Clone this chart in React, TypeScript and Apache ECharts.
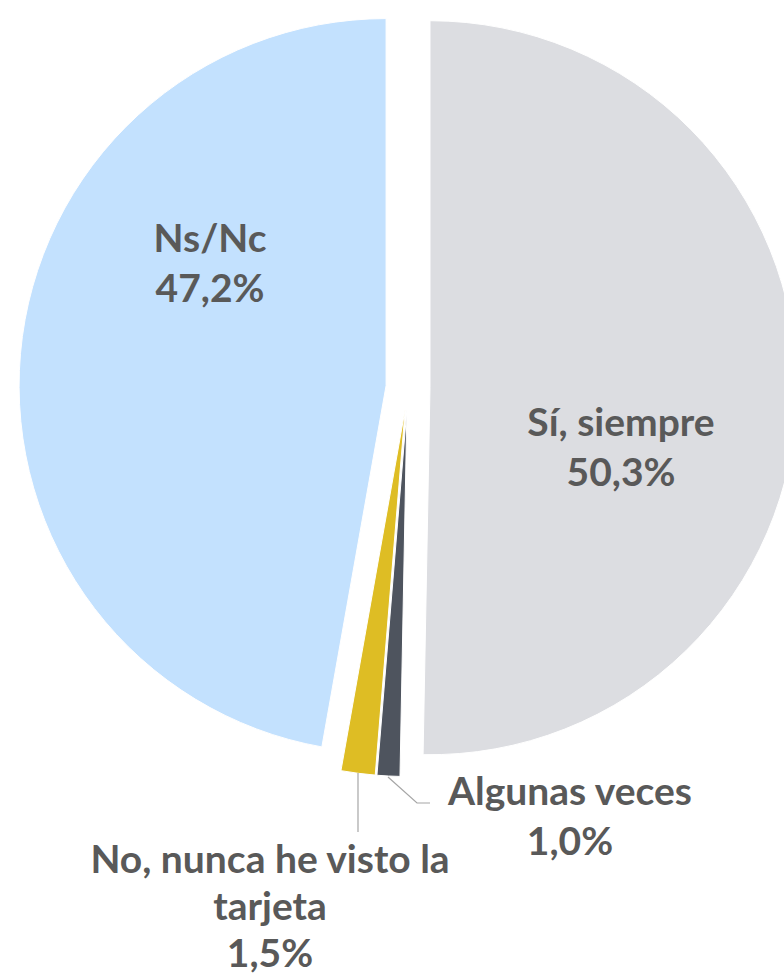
import React, { useEffect, useRef } from "react";
import * as echarts from "echarts";

const categories = ["Sí, siempre", "Algunas veces", "No, nunca he visto la\ntarjeta", "Ns/Nc"];
const values = [50.3, 1.0, 1.5, 47.2];
const colors = ["#DCDDE1", "#4E545E", "#DEBD24", "#C3E1FE"];
// label anchor positions (centre of each label block), line heights and leader lines
const labelPos: number[][] = [
  [621, 446],
  [570, 815],
  [270, 905],
  [210, 262],
];
const labelLineHeights = [50, 50, 47, 50];
const leaderLines: (number[][] | null)[] = [
  null,
  [[388, 777], [417, 803], [430, 803]],
  [[358, 773], [358, 802], [358, 832]],
  null,
];

const fmt = (v: number) => v.toFixed(1).replace(".", ",") + "%";

export default function App() {
  const ref = useRef<HTMLDivElement>(null);
  useEffect(() => {
    if (!ref.current) return;
    const chart = echarts.init(ref.current, undefined, { renderer: "svg" });
    const data = categories.map((name, i) => ({
      name,
      value: values[i],
      selected: true,
      itemStyle: { color: colors[i] },
      select: { itemStyle: { color: colors[i], borderColor: "#ffffff", borderWidth: 1 } },
    }));
    const graphics: any[] = [];
    categories.forEach((name, i) => {
      const line = leaderLines[i];
      if (line) {
        graphics.push({
          type: "polyline",
          z: 100,
          shape: { points: line },
          style: { stroke: "#A6A6A6", lineWidth: 1.2, fill: null },
          silent: true,
        });
      }
      graphics.push({
        type: "text",
        z: 100,
        x: labelPos[i][0],
        y: labelPos[i][1],
        silent: true,
        style: {
          text: `${name}\n${fmt(values[i])}`,
          fill: "#595959",
          fontFamily: "Lato",
          fontWeight: "bold",
          fontSize: 39,
          lineHeight: labelLineHeights[i],
          align: "center",
          verticalAlign: "middle",
        },
      });
    });
    chart.setOption({
      animation: false,
      backgroundColor: "#ffffff",
      series: [
        {
          type: "pie",
          center: [408, 387.5],
          radius: 367,
          startAngle: 90,
          clockwise: true,
          selectedMode: "multiple",
          selectedOffset: 22,
          avoidLabelOverlap: false,
          emphasis: { disabled: true },
          itemStyle: { borderColor: "#ffffff", borderWidth: 1 },
          label: { show: false },
          labelLine: { show: false },
          data,
        },
      ],
      graphic: graphics,
    });
    return () => chart.dispose();
  }, []);
  return (
    <div
      ref={ref}
      style={{ position: "fixed", left: 0, top: 0, width: 784, height: 976 }}
    />
  );
}
